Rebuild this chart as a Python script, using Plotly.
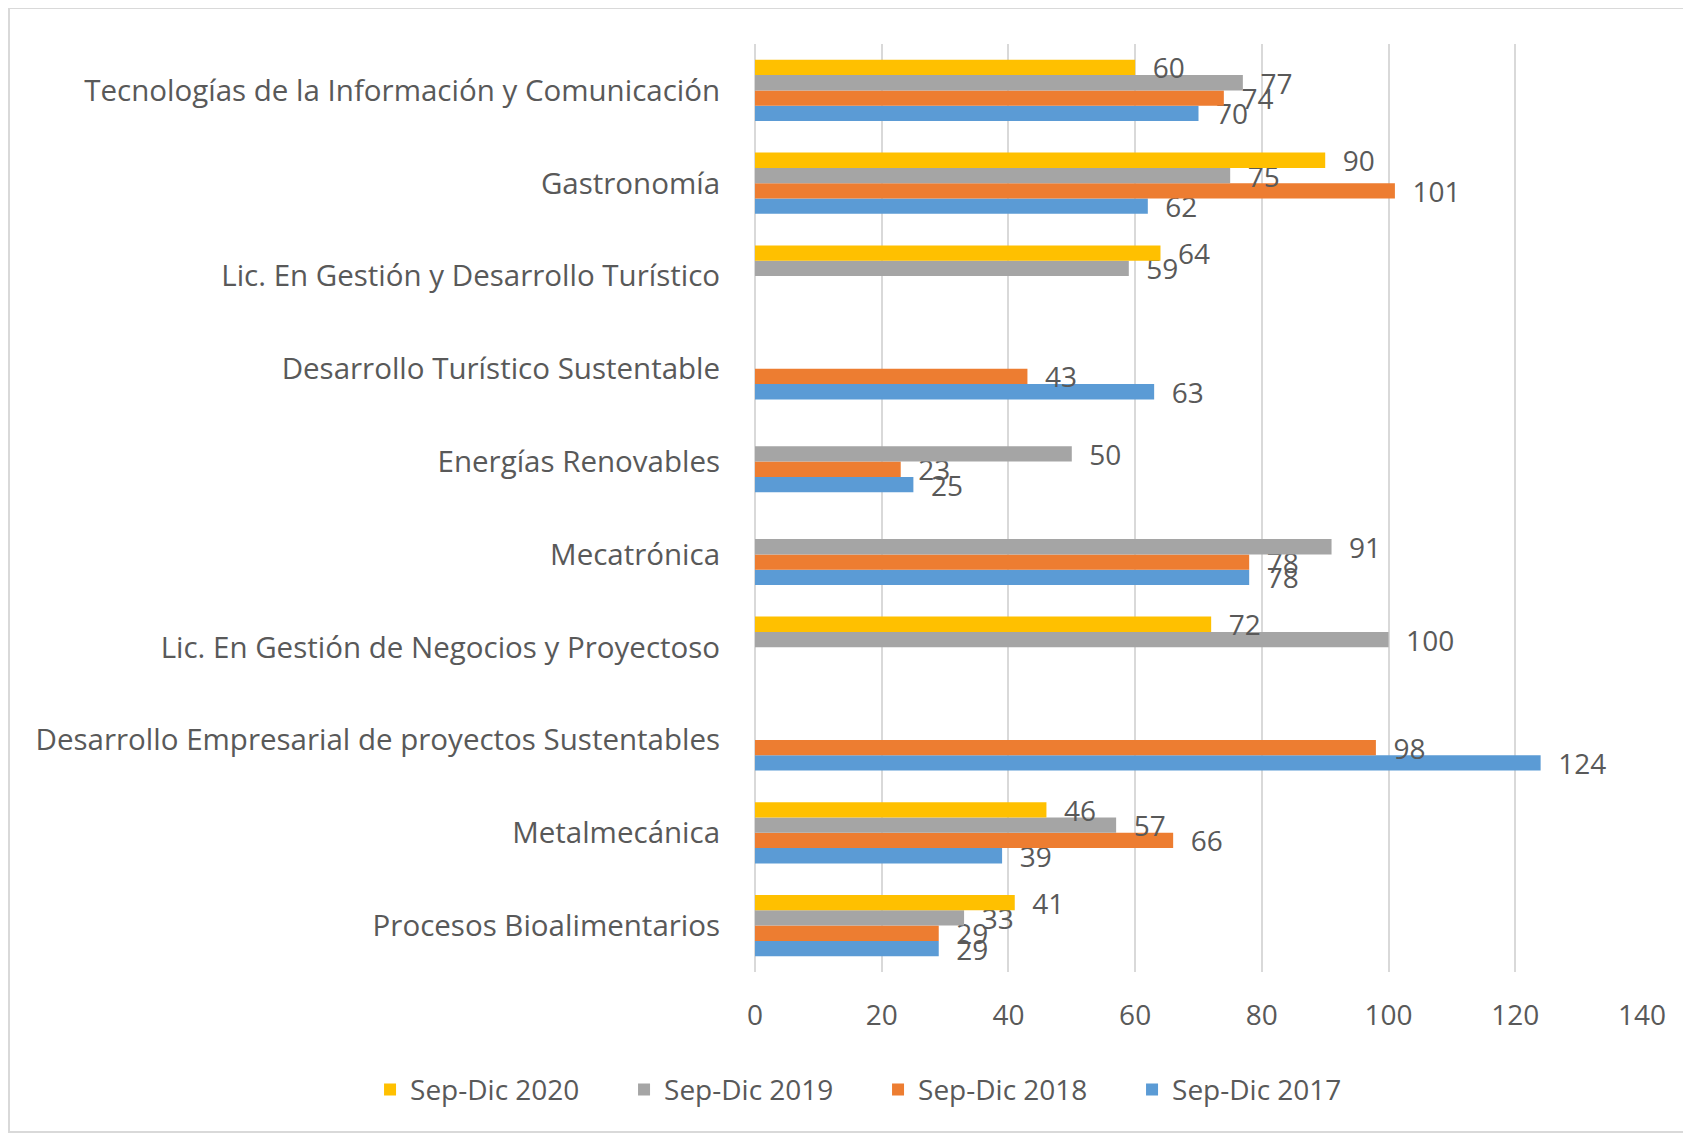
import plotly.graph_objects as go

categories = [
    "Procesos Bioalimentarios",
    "Metalmecánica",
    "Desarrollo Empresarial de proyectos Sustentables",
    "Lic. En Gestión de Negocios y Proyectoso",
    "Mecatrónica",
    "Energías Renovables",
    "Desarrollo Turístico Sustentable",
    "Lic. En Gestión y Desarrollo Turístico",
    "Gastronomía",
    "Tecnologías de la Información y Comunicación",
]

sep_dic_2017 = [29, 39, 124, None, 78, 25, 63, None, 62, 70]
sep_dic_2018 = [29, 66, 98, None, 78, 23, 43, None, 101, 74]
sep_dic_2019 = [33, 57, None, 100, 91, 50, None, 59, 75, 77]
sep_dic_2020 = [41, 46, None, 72, None, None, None, 64, 90, 60]

x_ticks = [0, 20, 40, 60, 80, 100, 120, 140]

series = [
    ("Sep-Dic 2017", sep_dic_2017, "#5B9BD5"),
    ("Sep-Dic 2018", sep_dic_2018, "#ED7D31"),
    ("Sep-Dic 2019", sep_dic_2019, "#A5A5A5"),
    ("Sep-Dic 2020", sep_dic_2020, "#FFC000"),
]

font_family = "Open Sans, Lato, sans-serif"
text_color = "#595959"
font_size = 28

fig = go.Figure()
for name, values, color in series:
    fig.add_trace(
        go.Bar(
            y=categories,
            x=values,
            name=name,
            orientation="h",
            marker=dict(color=color, line=dict(width=0)),
            text=["\u00a0\u00a0" + str(v) if v is not None else "" for v in values],
            textposition="outside",
            constraintext="none",
            textfont=dict(size=font_size, color=text_color, family=font_family),
            cliponaxis=False,
        )
    )

# plot area: x 747..1634, y 36..964 (figure px)
fig.update_layout(
    width=1691,
    height=1136,
    barmode="group",
    bargap=0.34,
    bargroupgap=0,
    plot_bgcolor="white",
    paper_bgcolor="white",
    margin=dict(l=747, r=57, t=36, b=172, autoexpand=False),
    font=dict(family=font_family, size=font_size, color=text_color),
    legend=dict(
        orientation="h",
        traceorder="reversed",
        x=-0.434,
        xanchor="left",
        y=-0.127,
        yanchor="middle",
        entrywidth=209,
        entrywidthmode="pixels",
        font=dict(size=font_size, color=text_color),
    ),
    showlegend=True,
)

fig.update_xaxes(
    range=[0, 140],
    tickvals=x_ticks,
    showgrid=True,
    gridcolor="#D9D9D9",
    gridwidth=2,
    zeroline=True,
    zerolinecolor="#D9D9D9",
    zerolinewidth=2,
    ticks="outside",
    ticklen=18,
    tickcolor="white",
    tickfont=dict(size=font_size, color=text_color),
    showline=False,
    automargin=False,
)

fig.update_yaxes(
    range=[-0.5, 9.5],
    showgrid=False,
    ticks="outside",
    ticklen=28,
    tickcolor="white",
    tickfont=dict(size=29.5, color=text_color),
    showline=False,
    automargin=False,
)

# light frame around the chart
fig.add_shape(
    type="rect",
    xref="paper",
    yref="paper",
    x0=(1 - 747) / 887,
    x1=(1700 - 747) / 887,
    y0=(964 - 1124) / 928,
    y1=(964 - 0) / 928,
    line=dict(color="#D9D9D9", width=2),
    fillcolor="rgba(0,0,0,0)",
    layer="below",
)

fig.write_html("out.html")
